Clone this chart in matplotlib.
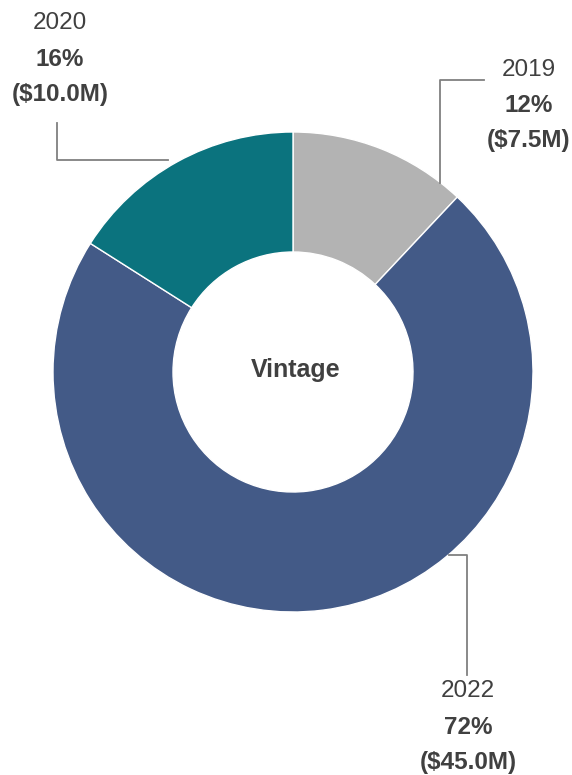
import matplotlib
matplotlib.use("Agg")
import matplotlib.pyplot as plt

# data
vintages = ["2019", "2022", "2020"]
amounts = [7.5, 45.0, 10.0]          # $M
shares = [12, 72, 16]                # %
colors = ["#b3b3b3", "#435a87", "#0b737e"]

plt.rcParams['font.family'] = ['Liberation Sans', 'DejaVu Sans']

W, H = 572, 775
fig = plt.figure(figsize=(W / 100, H / 100), dpi=100)
ax = fig.add_axes([0, 0, 1, 1])

def fy(y):
    # pixel row -> data y
    return H - y

cx, cy, R = 293, 372, 240
ax.pie(amounts, colors=colors, startangle=90, counterclock=False,
       center=(cx, fy(cy)), radius=R, frame=True,
       wedgeprops=dict(width=R * 0.5, edgecolor="white", linewidth=1))
ax.set_xlim(0, W)
ax.set_ylim(0, H)
ax.set_aspect("equal")
ax.axis("off")

ax.text(cx + 3, fy(370), "Vintage", ha="center", va="center",
        fontsize=18, fontweight="bold", color="#404040")

line_c = "#808080"
# leader lines (layout)
leaders = {
    "2020": [(57, 123), (57, 160), (168, 160)],
    "2019": [(484, 80), (440, 80), (440, 183)],
    "2022": [(449, 555), (467, 555), (467, 675)],
}
label_pos = {"2020": (60, 23), "2019": (529, 70), "2022": (468, 691)}

for name, amt, sh in zip(vintages, amounts, shares):
    pts = leaders[name]
    ax.plot([p[0] for p in pts], [fy(p[1]) for p in pts], color=line_c, lw=1.3)
    x, y = label_pos[name]
    ax.text(x, fy(y), name, ha="center", va="center", fontsize=17.5, color="#404040")
    ax.text(x, fy(y + 36), f"{sh}%", ha="center", va="center", fontsize=17.5,
            fontweight="bold", color="#404040")
    ax.text(x, fy(y + 71), f"(${amt:.1f}M)", ha="center", va="center", fontsize=17.5,
            fontweight="bold", color="#404040")

fig.savefig("out.png", dpi=100)
